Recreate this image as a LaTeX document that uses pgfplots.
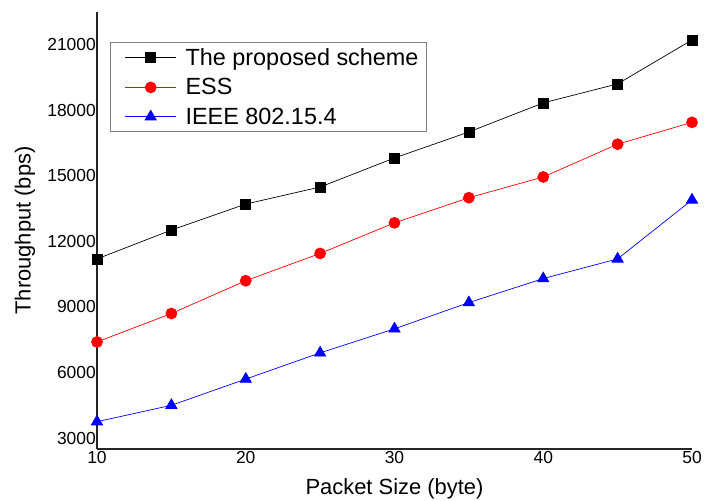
\documentclass[border=0pt]{standalone}
\usepackage{pgfplots}
\pgfplotsset{compat=1.18}
\usepackage{fontspec}
\setmainfont{Liberation Sans}
\begin{document}
\begin{tikzpicture}
\useasboundingbox (0,0) rectangle (704bp,501bp);
\begin{axis}[
  at={(97bp,52bp)}, anchor=south west,
  scale only axis,
  width=595bp, height=437bp,
  xmin=10, xmax=50, ymin=2500, ymax=22500,
  axis x line*=bottom, axis y line*=left,
  axis line style={line width=2pt,-,color=black!85},
  xtick={10,20,30,40,50},
  ytick={3000,6000,9000,12000,15000,18000,21000},
  major tick length=0pt,
  /pgf/number format/assume math mode=true,
  scaled y ticks=false,
  yticklabel style={/pgf/number format/fixed,/pgf/number format/1000 sep={},anchor=east,inner sep=1bp},
  xticklabel style={anchor=north,inner sep=2bp},
  ticklabel style={font=\fontsize{17.5}{18}\selectfont},
  xlabel={Packet Size (byte)},
  ylabel={Throughput (bps)},
  label style={font=\fontsize{22}{24}\selectfont},
  xlabel style={at={(axis description cs:0.5,-0.0915)},anchor=center},
  ylabel style={at={(axis description cs:-0.121,0.5)},anchor=center,rotate=0},
  legend style={at={(0.0218,0.931)},anchor=north west,draw=gray,line width=0.8pt,
    font=\fontsize{23.5}{26}\selectfont,row sep=7.5bp,inner xsep=6bp,inner ysep=4bp,
    /tikz/every odd column/.append style={column sep=7bp}},
  legend cell align=left,
  legend image code/.code={\path (0,0); \draw[mark repeat=2,mark phase=2,#1] plot coordinates {(0.3cm,0cm) (1.2cm,0cm) (2.1cm,0cm)};},
  clip=false,
]
\addplot[black,line width=0.7pt,mark=square*,mark size=5bp] coordinates {
(10,11200)(15,12520)(20,13710)(25,14490)(30,15820)(35,17010)(40,18340)(45,19210)(50,21220)};
\addlegendentry{The proposed scheme}
\addplot[red,line width=0.7pt,mark=*,mark size=5.5bp] coordinates {
(10,7400)(15,8700)(20,10200)(25,11450)(30,12850)(35,14000)(40,14950)(45,16450)(50,17450)};
\addlegendentry{ESS}
\addplot[blue,line width=0.7pt,mark=triangle*,mark size=6.5bp] coordinates {
(10,3750)(15,4500)(20,5700)(25,6900)(30,8000)(35,9200)(40,10300)(45,11200)(50,13900)};
\addlegendentry{IEEE 802.15.4}
\end{axis}
\end{tikzpicture}
\end{document}
